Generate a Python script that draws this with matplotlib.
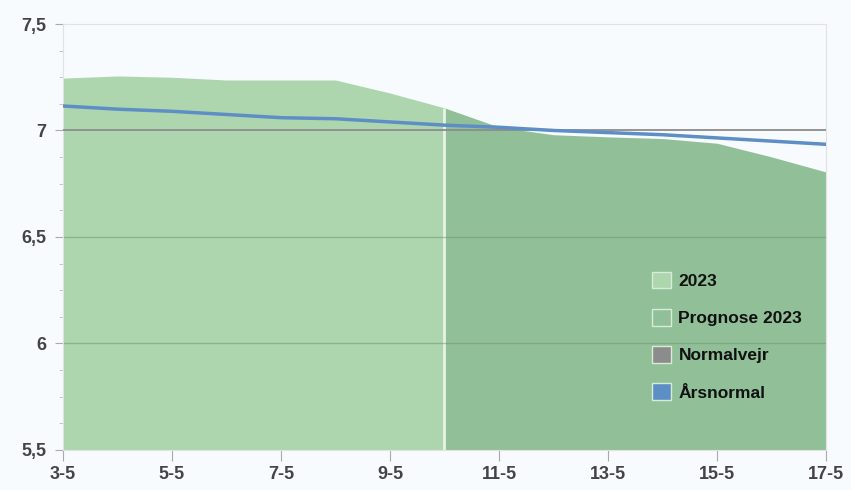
import numpy as np
import matplotlib.pyplot as plt
from matplotlib.patches import Patch
from matplotlib.ticker import MultipleLocator

# dage i maj
days = list(range(3, 18))
labels = ['%d-5' % d for d in days[::2]]

# 2023 (maalt) til og med 10-5, prognose fra 10-5
obs_days = [3, 4, 5, 6, 7, 8, 9, 10]
obs_vals = [7.246, 7.256, 7.25, 7.237, 7.237, 7.237, 7.176, 7.106]
prog_days = [10, 11, 12, 13, 14, 15, 16, 17]
prog_vals = [7.106, 7.016, 6.98, 6.97, 6.962, 6.94, 6.876, 6.805]

normal_vals = [7.0] * len(days)
aars_vals = [7.115, 7.10, 7.09, 7.075, 7.06, 7.055, 7.04, 7.025,
             7.015, 7.0, 6.99, 6.98, 6.965, 6.95, 6.935]

c_obs = '#aed6ae'
c_prog = '#91c098'
c_norm = '#8c8c8c'
c_aars = '#5d8fc6'
bg = '#f7fbfe'

plt.rcParams['font.family'] = ['Liberation Sans Narrow', 'Liberation Sans', 'DejaVu Sans']

fig = plt.figure(figsize=(8.51, 4.90), dpi=100, facecolor=bg)
ax = fig.add_axes([0.074, 0.082, 0.8966, 0.869])
ax.set_facecolor(bg)

ax.fill_between(obs_days, 5.5, obs_vals, color=c_obs, lw=0, zorder=1)
ax.fill_between(prog_days, 5.5, prog_vals, color=c_prog, lw=0, zorder=1)
ax.vlines(obs_days[-1], 5.5, obs_vals[-1], color='#e8f3e8', lw=2, zorder=2)

for yv in [6, 6.5]:
    ax.axhline(yv, color='#6f8f6f', lw=1, alpha=0.5, zorder=2)

ax.plot(days, normal_vals, color=c_norm, lw=1.3, zorder=3)
ax.plot(days, aars_vals, color=c_aars, lw=2.5, zorder=4)

ax.set_xlim(3, 17)
ax.set_ylim(5.5, 7.5)
ax.set_xticks(days[::2])
ax.set_xticklabels(labels)
ax.set_yticks([5.5, 6, 6.5, 7, 7.5])
ax.set_yticklabels(['5,5', '6', '6,5', '7', '7,5'])
ax.yaxis.set_minor_locator(MultipleLocator(0.125))

for s in ax.spines.values():
    s.set_color('#e2e2e2')
ax.tick_params(axis='x', length=8, color='#aaaaaa', labelsize=13,
               labelcolor='#444444', pad=4)
ax.tick_params(axis='y', which='major', length=6, color='#aaaaaa',
               labelsize=13, labelcolor='#444444', pad=6)
ax.tick_params(axis='y', which='minor', length=3, color='#bbbbbb')
for t in ax.get_xticklabels() + ax.get_yticklabels():
    t.set_fontweight('bold')

handles = [Patch(facecolor=c_obs, edgecolor='#d8ecd8'),
           Patch(facecolor=c_prog, edgecolor='#d8ecd8'),
           Patch(facecolor=c_norm, edgecolor='#d8ecd8'),
           Patch(facecolor=c_aars, edgecolor='#d8ecd8')]
leg = ax.legend(handles, ['2023', 'Prognose 2023', 'Normalvejr', 'Årsnormal'],
                loc='upper left', bbox_to_anchor=(0.752, 0.455), frameon=False,
                handlelength=1.1, handleheight=1.1, handletextpad=0.4,
                labelspacing=1.15, prop={'size': 12.5, 'weight': 'bold'})
for t in leg.get_texts():
    t.set_color('#111111')

fig.savefig('out.png', dpi=100, facecolor=bg)
